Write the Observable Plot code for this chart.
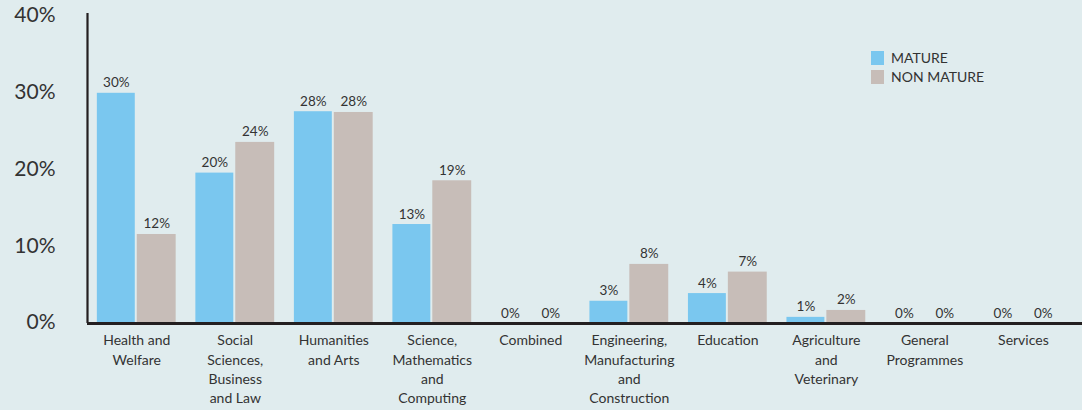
<!DOCTYPE html>
<html>
<head>
<meta charset="utf-8">
<script src="https://cdn.jsdelivr.net/npm/d3@7"></script>
<script src="https://cdn.jsdelivr.net/npm/@observablehq/plot@0.6"></script>
<style>
  html, body { margin: 0; padding: 0; background: #e0ecee; }
  #wrap { position: relative; width: 1082px; height: 410px; font-family: Lato, "Open Sans", sans-serif; }
  #legend { position: absolute; left: 871px; top: 49px; }
</style>
</head>
<body>
<div id="wrap"><div id="chart"></div><div id="legend"></div></div>
<script>
const categories = [
  "Health and\nWelfare",
  "Social\nSciences,\nBusiness\nand Law",
  "Humanities\nand Arts",
  "Science,\nMathematics\nand\nComputing",
  "Combined",
  "Engineering,\nManufacturing\nand\nConstruction",
  "Education",
  "Agriculture\nand\nVeterinary",
  "General\nProgrammes",
  "Services"
];
const series = ["MATURE", "NON MATURE"];
const colors = ["#7ac7ef", "#c7bdb8"];
const mature    = [30.0, 19.6, 27.6, 12.9, 0, 2.9, 3.9, 0.8, 0, 0];
const nonMature = [11.6, 23.6, 27.5, 18.6, 0, 7.7, 6.7, 1.7, 0, 0];
const yTicks = [0, 10, 20, 30, 40];

const rows = [];
categories.forEach((c, i) => {
  rows.push({i, series: series[0], value: mature[i]});
  rows.push({i, series: series[1], value: nonMature[i]});
});
// position of each series' bar inside a category slot
const slot = {"MATURE": [-0.4, -0.015], "NON MATURE": [0.005, 0.4]};

const ink = "#333333";
const chart = Plot.plot({
  width: 1082,
  height: 410,
  marginLeft: 87,
  marginRight: 0,
  marginTop: 13,
  marginBottom: 87,
  style: {background: "transparent", fontFamily: "Lato, 'Open Sans', sans-serif", color: ink},
  x: {domain: [-0.5, 9.6], axis: null},
  y: {domain: [0, 40.4], axis: null},
  color: {domain: series, range: colors},
  marks: [
    Plot.rectY(rows, {
      x1: d => d.i + slot[d.series][0],
      x2: d => d.i + slot[d.series][1],
      y: "value",
      fill: "series"
    }),
    Plot.text(rows, {
      x: d => d.i + (slot[d.series][0] + slot[d.series][1]) / 2,
      y: "value",
      text: d => Math.round(d.value) + "%",
      lineAnchor: "bottom",
      dy: -6,
      fontSize: 13.5,
      fill: ink
    }),
    Plot.axisY({
      ticks: yTicks,
      tickFormat: d => d + "%",
      tickSize: 0,
      tickPadding: 32,
      fontSize: 21,
      fill: ink,
      label: null,
      dy: -1
    }),
    Plot.axisX({
      ticks: d3.range(categories.length),
      tickFormat: i => categories[i],
      tickSize: 0,
      tickPadding: 8,
      fontSize: 14,
      lineHeight: 1.38,
      fill: ink,
      label: null
    }),
    Plot.ruleX([-0.5], {y1: 0, y2: 40.4, stroke: "#231f20", strokeWidth: 2.2}),
    Plot.ruleY([0], {stroke: "#231f20", strokeWidth: 3})
  ]
});
document.getElementById("chart").appendChild(chart);

const legend = Plot.legend({
  color: {domain: series, range: colors},
  legend: "swatches",
  columns: 1,
  swatchWidth: 13,
  swatchHeight: 14,
  style: {fontFamily: "Lato, 'Open Sans', sans-serif", fontSize: "14px", color: ink, background: "transparent", lineHeight: "18px"}
});
document.getElementById("legend").appendChild(legend);
</script>
</body>
</html>
